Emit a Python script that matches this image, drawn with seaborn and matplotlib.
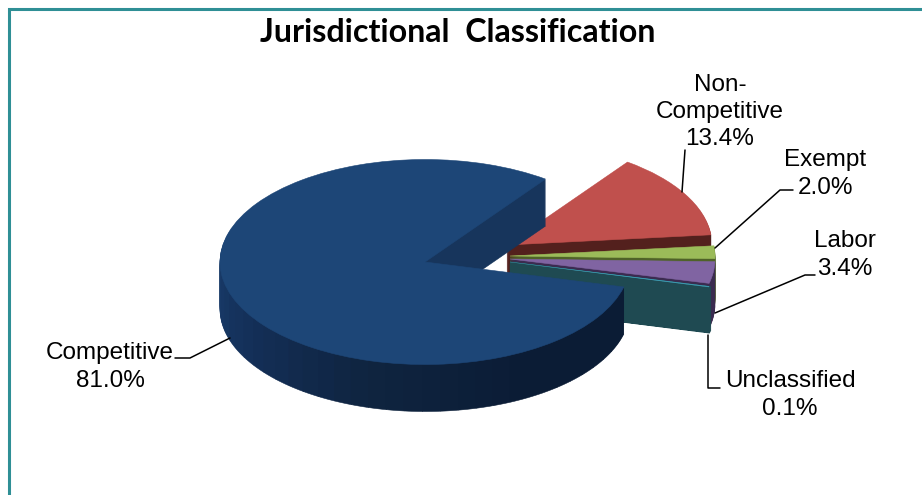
import numpy as np
import matplotlib
matplotlib.use("Agg")
import matplotlib.pyplot as plt
import seaborn as sns

# values
categories = ["Competitive", "Unclassified", "Labor", "Exempt", "Non-\nCompetitive"]
shares = [81.0, 0.1, 3.4, 2.0, 13.4]

top_colors = ["#1d4677", "#3f9db5", "#8064a2", "#9bbb59", "#c0504d"]
wall_colors = ["#17355c", "#1f4a52", "#3b2b50", "#4f6228", "#53201d"]

# where each pie sits on the figure, in pixels
pie_centers = [(425, 262), (510, 262), (510, 259), (510, 256), (507, 245)]
radius = 205
depth = 45
start = 54

sns.set_theme(style="white")
plt.rcParams["font.family"] = ["Liberation Sans", "DejaVu Sans"]

fig = plt.figure(figsize=(9.22, 4.95), dpi=100)
ax = fig.add_axes([0, 0, 1, 1])


def to_data(px, py):
    # y is doubled so the circles come out as flat ellipses
    return px, (495 - py) * 2


def draw_slice(i, color, shift=0, lw=0.4):
    cx, cy = pie_centers[i]
    wedges, _ = ax.pie(shares, colors=top_colors, startangle=start, radius=radius,
                       center=to_data(cx, cy + shift),
                       wedgeprops={"linewidth": lw})
    for j, w in enumerate(wedges):
        if j == i:
            w.set_facecolor(color)
            w.set_edgecolor(color)
        else:
            w.remove()


# small slices first, back to front
for i in [4, 3, 2]:
    for d in range(depth, 0, -1):
        draw_slice(i, wall_colors[i], d)
    draw_slice(i, top_colors[i])

# the unclassified sliver is so thin its wall needs a thick outline to close up
for d in range(depth, 0, -1):
    draw_slice(1, wall_colors[1], d, lw=2.0)
draw_slice(1, top_colors[1], lw=0.3)

# big slice: rim split up so it can darken towards the right
n_rim = 36
back_part = shares[0] * 0.37
rim_parts = [back_part] + [(shares[0] - back_part) / n_rim] * n_rim + shares[1:]
rim_colors = [wall_colors[0]] + sns.blend_palette(["#1b4170", "#14305a", "#0f2440", "#0b1c35", "#0b1c35"], n_rim)
for d in range(depth + 2, 0, -1):
    wedges, _ = ax.pie(rim_parts, colors=rim_colors + ["w"] * 4, startangle=start, radius=radius,
                       center=to_data(pie_centers[0][0], pie_centers[0][1] + d),
                       wedgeprops={"linewidth": 0.4})
    for j, w in enumerate(wedges):
        if j > n_rim:
            w.remove()
        else:
            w.set_edgecolor(w.get_facecolor())
draw_slice(0, top_colors[0])

ax.set_aspect("auto")
ax.set_xlim(0, 922)
ax.set_ylim(0, 990)
ax.axis("off")

# labels and frame go on an overlay in pixel units
over = fig.add_axes([0, 0, 1, 1], facecolor="none")
over.set_xlim(0, 922)
over.set_ylim(495, 0)
over.axis("off")

over.plot([9, 9, 922], [495, 9, 9], color="#2f8f95", lw=2.2, solid_joinstyle="miter")

over.text(458, 32, "Jurisdictional  Classification", family="Lato", fontweight="bold",
          fontsize=23.2, color="black", ha="center", va="center")

label_pos = [(110, 367), (790, 395), (845, 255), (825, 174), (720, 112)]
leaders = [
    ([175, 190, 230], [358, 358, 338]),
    ([720, 708, 708], [388, 388, 335]),
    ([815, 805, 715], [275, 275, 313]),
    ([793, 780, 715], [190, 190, 248]),
    ([685, 682], [150, 192]),
]
for name, val, (x, y), (lx, ly) in zip(categories, shares, label_pos, leaders):
    over.plot(lx, ly, color="black", lw=1.1)
    over.text(x, y, f"{name}\n{val:.1f}%", fontsize=17.5, color="black", ha="center",
              va="center", linespacing=1.32)

fig.savefig("out.png", dpi=100)
